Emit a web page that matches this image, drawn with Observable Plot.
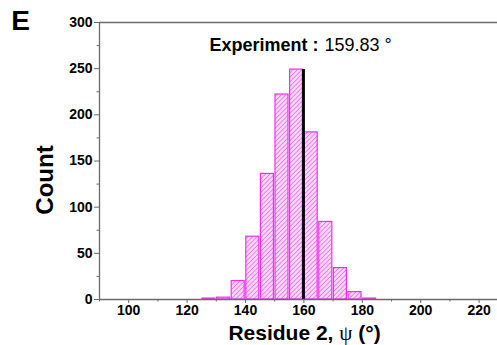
<!DOCTYPE html>
<html>
<head>
<meta charset="utf-8">
<script src="https://cdn.jsdelivr.net/npm/d3@7"></script>
<script src="https://cdn.jsdelivr.net/npm/@observablehq/plot@0.6"></script>
<style>
  html, body { margin: 0; padding: 0; background: #fff; }
  #chart { width: 497px; height: 345px; }
</style>
</head>
<body>
<div id="chart"></div>
<script>
// Histogram of the sampled psi dihedral of residue 2 (5° bins)
const binStarts = [125, 130, 135, 140, 145, 150, 155, 160, 165, 170, 175, 180];
const binWidth = 5;
const counts = [1, 2, 20, 68, 136, 222, 249, 181, 84, 34, 8, 1];
const experiment = 159.83;

const xTicks = [100, 120, 140, 160, 180, 200, 220];
const xMinorTicks = [90, 110, 130, 150, 170, 190, 210];
const yTicks = [0, 50, 100, 150, 200, 250, 300];
const yMinorTicks = [25, 75, 125, 175, 225, 275];

const bins = binStarts.map((x0, i) => ({x0, x1: x0 + binWidth, count: counts[i]}));
const peak = d3.max(counts);

const axisColor = "#6a6a6a";
const barColor = "#ee30ee";

const chart = Plot.plot({
  width: 497,
  height: 345,
  marginLeft: 99,
  marginRight: 0,
  marginTop: 22,
  marginBottom: 46,
  x: {domain: [90, 226.3]},
  y: {domain: [0, 300]},
  style: {fontFamily: "'Liberation Sans', Arial, sans-serif", background: "#fff", color: "#000"},
  marks: [
    // hatched bars
    Plot.rectY(bins, {x1: "x0", x2: "x1", y: "count", fill: "url(#hatch)", stroke: barColor, strokeWidth: 1.2, insetLeft: 0.8, insetRight: 0.8}),
    // experimental value
    Plot.ruleX([experiment], {y1: 0, y2: peak, stroke: "#000", strokeWidth: 3}),
    // box (top, bottom, left)
    Plot.ruleY([0, 300], {stroke: axisColor, strokeWidth: 1.3}),
    Plot.ruleX([90], {stroke: axisColor, strokeWidth: 1.3}),
    // axes: labelled major ticks, unlabelled minor ticks
    Plot.axisX({ticks: xTicks, tickSize: 4, tickPadding: 2, fontSize: 14, fontWeight: "bold", stroke: axisColor, label: null}),
    Plot.axisX({ticks: xMinorTicks, tickSize: 2.5, fill: "none", stroke: axisColor, label: null}),
    Plot.axisY({ticks: yTicks, tickSize: 5, tickPadding: 2, fontSize: 14, fontWeight: "bold", stroke: axisColor, label: null}),
    Plot.axisY({ticks: yMinorTicks, tickSize: 2.5, fill: "none", stroke: axisColor, label: null}),
    // panel letter
    Plot.text(["E"], {frameAnchor: "top-left", textAnchor: "middle", lineAnchor: "middle", dx: -79, dy: -1, fontSize: 28, fontWeight: "bold"}),
    // axis titles
    Plot.text(["Count"], {frameAnchor: "left", textAnchor: "middle", lineAnchor: "middle", rotate: -90, dx: -54, dy: 19, fontSize: 24, fontWeight: "bold"}),
    Plot.text(["Residue 2, ψ (°)"], {frameAnchor: "bottom", textAnchor: "middle", lineAnchor: "bottom", dx: 6, dy: 40, fontSize: 21, fontWeight: "bold", className: "xlabel"}),
    // annotation
    Plot.text(["Experiment :"], {frameAnchor: "top", textAnchor: "end", lineAnchor: "bottom", dx: 20, dy: 28, fontSize: 18, fontWeight: "bold"}),
    Plot.text([`${experiment.toFixed(2)} °`], {frameAnchor: "top", textAnchor: "start", lineAnchor: "bottom", dx: 26, dy: 28, fontSize: 18})
  ]
});

// diagonal hatch used as the bar fill
const ns = "http://www.w3.org/2000/svg";
const defs = document.createElementNS(ns, "defs");
defs.innerHTML = `
  <pattern id="hatch" patternUnits="userSpaceOnUse" width="3.2" height="3.2" patternTransform="rotate(45)">
    <rect width="3.2" height="3.2" fill="#fbd6fb"></rect>
    <line x1="0" y1="0" x2="0" y2="3.2" stroke="#e650e6" stroke-width="1.2"></line>
  </pattern>`;
chart.insertBefore(defs, chart.firstChild);

// psi drawn in a serif face, regular weight
chart.querySelectorAll(".xlabel text").forEach(t => {
  if (t.textContent.includes("ψ")) {
    t.innerHTML = 'Residue 2, <tspan font-family="\'Liberation Serif\', serif" font-weight="normal">ψ</tspan> (°)';
  }
});

document.getElementById("chart").appendChild(chart);
</script>
</body>
</html>
